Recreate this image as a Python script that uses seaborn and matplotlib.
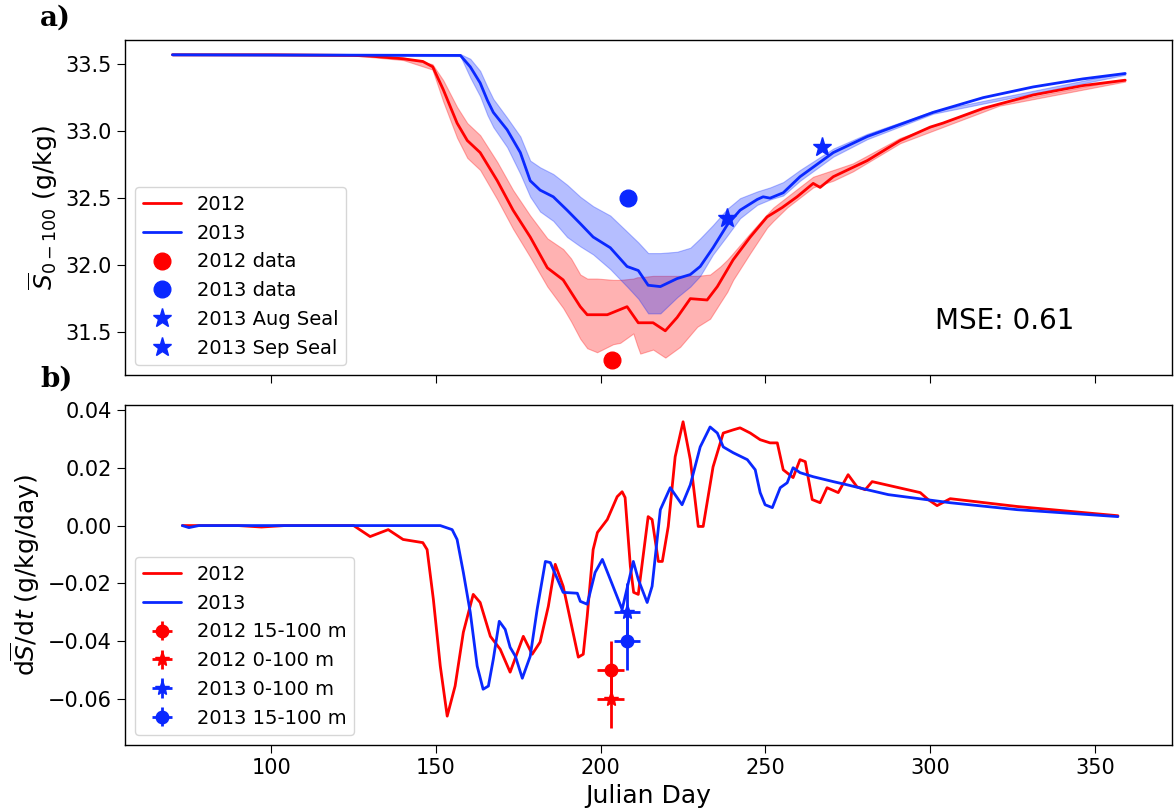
import numpy as np
import pandas as pd
import matplotlib
matplotlib.use("Agg")
import matplotlib.pyplot as plt
import seaborn as sns

# ---------------- Data ----------------
# Panel a: depth-mean salinity
red_days = [70, 100, 125, 130, 140, 146, 149, 152.2, 156.4, 159.5, 163.4, 168.6, 173.4, 178.6,
            183.8, 188.6, 193.8, 195.9, 202.0, 208.0, 211.4, 215.9, 219.6, 223.2, 227.2, 232.3,
            235.4, 240.2, 245.4, 250.5, 255.1, 259.6, 264.5, 266.6, 270.6, 276.6, 280.9, 290.9,
            300.0, 303.9, 316.1, 331.3, 346.4, 359.2]
red_S = [33.57, 33.57, 33.565, 33.56, 33.54, 33.52, 33.48, 33.31, 33.06, 32.93, 32.84, 32.63, 32.41, 32.21,
         31.98, 31.89, 31.69, 31.63, 31.63, 31.69, 31.57, 31.57, 31.51, 31.61, 31.75, 31.74,
         31.84, 32.04, 32.21, 32.36, 32.43, 32.51, 32.61, 32.58, 32.66, 32.73, 32.78, 32.93,
         33.03, 33.06, 33.17, 33.27, 33.34, 33.38]

red_band_days = [70, 124.9, 140.1, 148.9, 152.2, 156.4, 159.5, 163.4, 168.6, 173.4, 178.6, 183.8,
                 188.6, 191.0, 193.8, 195.9, 198.9, 203.8, 205.9, 209.9, 211.1, 212.0, 215.9,
                 219.6, 224.1, 229.3, 233.2, 236.3, 238.4, 240.2, 245.4, 250.5, 252.4, 256.6,
                 264.5, 270.6, 276.6, 290.9, 321.0, 359.2]
red_hi = [33.575, 33.575, 33.55, 33.50, 33.38, 33.18, 33.06, 32.97, 32.77, 32.56, 32.37, 32.20,
          32.12, 32.05, 31.93, 31.90, 31.90, 31.89, 31.89, 31.90, 31.91, 31.91, 31.92, 31.92,
          31.92, 31.92, 31.93, 31.99, 32.04, 32.09, 32.24, 32.38, 32.43, 32.51, 32.66, 32.71,
          32.76, 32.95, 33.21, 33.39]
red_lo = [33.565, 33.565, 33.53, 33.46, 33.22, 32.95, 32.80, 32.71, 32.49, 32.27, 32.06, 31.84,
          31.68, 31.58, 31.45, 31.38, 31.35, 31.41, 31.42, 31.49, 31.40, 31.34, 31.37, 31.31,
          31.39, 31.54, 31.60, 31.72, 31.80, 31.89, 32.09, 32.28, 32.33, 32.43, 32.58, 32.63,
          32.70, 32.91, 33.19, 33.37]

blue_days = [70, 157.4, 160.4, 163.4, 165.6, 167.4, 171.6, 175.6, 178.6, 181.6, 185.6, 189.8,
             193.8, 197.7, 202.9, 208.0, 211.4, 214.4, 218.1, 223.2, 227.2, 230.2, 234.1, 238.4,
             242.3, 247.5, 249.3, 251.4, 255.4, 260.5, 270.6, 280.9, 290.9, 300.9, 316.1, 331.3,
             346.4, 359.2]
blue_S = [33.57, 33.565, 33.48, 33.36, 33.23, 33.14, 33.01, 32.84, 32.63, 32.56, 32.51, 32.41,
          32.31, 32.21, 32.13, 31.99, 31.96, 31.85, 31.84, 31.90, 31.93, 31.99, 32.13, 32.30,
          32.41, 32.49, 32.51, 32.50, 32.54, 32.66, 32.84, 32.96, 33.05, 33.14, 33.25, 33.33,
          33.39, 33.43]

blue_band_days = [70, 157.4, 160.4, 163.4, 165.6, 167.4, 171.6, 175.6, 178.6, 181.6, 185.6,
                  189.8, 193.8, 197.7, 202.9, 208.0, 211.4, 214.4, 218.1, 223.2, 227.2, 230.2,
                  234.1, 238.4, 242.3, 247.5, 251.4, 255.4, 260.5, 270.6, 280.9, 300.9, 359.2]
blue_hi = [33.575, 33.575, 33.54, 33.45, 33.33, 33.24, 33.10, 32.96, 32.78, 32.73, 32.68, 32.60,
           32.51, 32.44, 32.37, 32.25, 32.17, 32.09, 32.09, 32.10, 32.13, 32.20, 32.30, 32.42,
           32.50, 32.55, 32.58, 32.62, 32.71, 32.87, 32.98, 33.15, 33.44]
blue_lo = [33.565, 33.56, 33.40, 33.26, 33.12, 33.03, 32.88, 32.68, 32.51, 32.40, 32.33, 32.21,
           32.14, 32.08, 31.97, 31.84, 31.75, 31.64, 31.64, 31.76, 31.84, 31.92, 32.08, 32.22,
           32.35, 32.45, 32.49, 32.52, 32.63, 32.81, 32.94, 33.13, 33.42]

data_2012_day, data_2012_S = [203.5], [31.29]
data_2013_day, data_2013_S = [208.3], [32.50]
seal_aug_day, seal_aug_S = [238.4], [32.35]
seal_sep_day, seal_sep_S = [267.2], [32.88]
mse_text = "MSE: 0.61"

# Panel b: rate of change
red_rate_days = [73, 90, 97, 104, 125, 130, 135.5, 140, 146, 147.3, 149.2, 151.3, 153.4, 155.8,
                 158.3, 161.3, 163.4, 166.5, 169.5, 172.5, 176.5, 179.2, 181.6, 184.1, 186.2,
                 188.6, 193.2, 194.7, 195.9, 197.7, 199.0, 202.0, 205.0, 206.5, 207.4, 209.0,
                 210.0, 211.4, 214.4, 215.6, 217.5, 218.7, 220.5, 222.6, 225.0, 227.2, 229.6,
                 231.1, 234.1, 237.2, 240.2, 242.3, 245.4, 248.4, 251.4, 253.6, 255.4, 258.4,
                 260.5, 262.1, 264.2, 266.6, 268.7, 272.1, 275.1, 277.8, 280.3, 282.4, 297.0,
                 299.4, 302.1, 306.1, 326.4, 357.0]
red_rate = [0.0, 0.0, -0.0005, 0.0, 0.0, -0.0038, -0.0014, -0.0048, -0.0059, -0.0083, -0.0255,
            -0.0486, -0.0659, -0.0555, -0.0369, -0.0238, -0.0266, -0.0383, -0.0428, -0.0507,
            -0.0383, -0.0445, -0.0403, -0.0279, -0.0134, -0.0210, -0.0455, -0.0445, -0.0314,
            -0.0083, -0.0024, 0.0021, 0.0100, 0.0117, 0.0097, -0.0141, -0.0231, -0.0238, 0.0031,
            0.0021, -0.0124, -0.0124, -0.0003, 0.0238, 0.0359, 0.0228, -0.0003, -0.0003, 0.0203,
            0.0320, 0.0331, 0.0338, 0.0320, 0.0297, 0.0286, 0.0286, 0.0193, 0.0166, 0.0228,
            0.0221, 0.0090, 0.0079, 0.0131, 0.0114, 0.0176, 0.0134, 0.0124, 0.0152, 0.0114,
            0.0090, 0.0069, 0.0093, 0.0066, 0.0034]

blue_rate_days = [73, 75, 78, 90, 151.3, 154.9, 156.4, 158.3, 160.4, 162.5, 164.3, 165.9, 167.4,
                  169.2, 171.0, 172.5, 174.1, 176.2, 178.6, 180.7, 183.2, 184.7, 188.6, 192.9,
                  193.8, 195.9, 198.3, 200.5, 202.9, 206.5, 209.9, 211.4, 214.1, 215.6, 218.1,
                  221.1, 224.7, 227.2, 230.2, 233.2, 235.4, 237.2, 240.2, 244.5, 246.9, 248.4,
                  249.9, 252.1, 254.5, 256.6, 258.4, 260.5, 264.5, 270.6, 274.8, 280.9, 287.3,
                  306.1, 326.4, 357.0]
blue_rate = [0.0, -0.0007, 0.0, 0.0, 0.0, -0.0014, -0.0048, -0.0162, -0.0300, -0.0486, -0.0566,
             -0.0555, -0.0462, -0.0331, -0.0359, -0.0421, -0.0452, -0.0528, -0.0452, -0.0290,
             -0.0124, -0.0128, -0.0231, -0.0234, -0.0262, -0.0272, -0.0162, -0.0117, -0.0186,
             -0.0290, -0.0124, -0.0186, -0.0266, -0.0210, 0.0055, 0.0131, 0.0072, 0.0141, 0.0272,
             0.0341, 0.0320, 0.0272, 0.0252, 0.0228, 0.0193, 0.0114, 0.0072, 0.0062, 0.0131,
             0.0148, 0.0200, 0.0183, 0.0169, 0.0152, 0.0141, 0.0124, 0.0107, 0.0079, 0.0055,
             0.0031]

obs_labels = ["2012 15-100 m", "2012 0-100 m", "2013 0-100 m", "2013 15-100 m"]
obs_day = [203, 203, 208, 208]
obs_rate = [-0.05, -0.06, -0.03, -0.04]
obs_day_err = [4, 4, 4, 4]
obs_rate_err = [0.01, 0.01, 0.01, 0.01]
obs_marker = ["o", "*", "*", "o"]
obs_year = ["2012", "2012", "2013", "2013"]

# ---------------- Styling ----------------
sns.set_style("ticks", {"axes.labelcolor": "black", "xtick.color": "black",
                        "ytick.color": "black", "text.color": "black",
                        "axes.edgecolor": "black"})
plt.rcParams['font.family'] = ['DejaVu Sans']
plt.rcParams['mathtext.fontset'] = 'dejavusans'
RED = "#ff0000"
BLUE = "#0a28ff"
year_color = {"2012": RED, "2013": BLUE}

fig = plt.figure(figsize=(11.75, 8.10), dpi=100)
ax1 = fig.add_axes([0.1064, 0.537, 0.891, 0.4136])
ax2 = fig.add_axes([0.1064, 0.0802, 0.891, 0.4198], sharex=ax1)

# ---- Panel a ----
ax1.fill_between(red_band_days, red_lo, red_hi, color=RED, alpha=0.3, lw=0.8)
ax1.fill_between(blue_band_days, blue_lo, blue_hi, color=BLUE, alpha=0.3, lw=0.8)
df_r = pd.DataFrame({"day": red_days, "S": red_S})
df_b = pd.DataFrame({"day": blue_days, "S": blue_S})
sns.lineplot(data=df_r, x="day", y="S", ax=ax1, color=RED, lw=2, label="2012")
sns.lineplot(data=df_b, x="day", y="S", ax=ax1, color=BLUE, lw=2, label="2013")
ax1.plot(data_2012_day, data_2012_S, "o", color=RED, ms=12, label="2012 data")
ax1.plot(data_2013_day, data_2013_S, "o", color=BLUE, ms=12, label="2013 data")
ax1.plot(seal_aug_day, seal_aug_S, "*", color=BLUE, ms=14, label="2013 Aug Seal")
ax1.plot(seal_sep_day, seal_sep_S, "*", color=BLUE, ms=14, label="2013 Sep Seal")
ax1.text(0.84, 0.16, mse_text, transform=ax1.transAxes, fontsize=20, ha="center", va="center")
ax1.set_ylabel(r"$\overline{S}_{0-100}$ (g/kg)", fontsize=18)
ax1.set_xlabel("")
ax1.set_ylim(31.18, 33.68)
ax1.set_yticks([31.5, 32.0, 32.5, 33.0, 33.5])
ax1.tick_params(labelsize=15, labelbottom=False, direction="out", length=6)
ax1.legend(loc="lower left", fontsize=14, frameon=True)

# ---- Panel b ----
df_rr = pd.DataFrame({"day": red_rate_days, "rate": red_rate})
df_br = pd.DataFrame({"day": blue_rate_days, "rate": blue_rate})
sns.lineplot(data=df_rr, x="day", y="rate", ax=ax2, color=RED, lw=2, label="2012")
sns.lineplot(data=df_br, x="day", y="rate", ax=ax2, color=BLUE, lw=2, label="2013")
for lab, d, r, de, re, m, yr in zip(obs_labels, obs_day, obs_rate, obs_day_err, obs_rate_err,
                                    obs_marker, obs_year):
    ax2.errorbar(d, r, xerr=de, yerr=re, fmt=m, color=year_color[yr],
                 ms=11 if m == "*" else 9, elinewidth=2, capsize=0, label=lab)
ax2.set_ylabel(r"d$\overline{S}$/d$t$ (g/kg/day)", fontsize=18)
ax2.set_xlabel("Julian Day", fontsize=18)
ax2.set_ylim(-0.0759, 0.0417)
ax2.set_xlim(55.6, 373.4)
ax2.set_xticks([100, 150, 200, 250, 300, 350])
ax2.set_yticks([-0.06, -0.04, -0.02, 0.0, 0.02, 0.04])
ax2.tick_params(labelsize=15, direction="out", length=6)
ax2.legend(loc="lower left", fontsize=14, frameon=True)

for ax in (ax1, ax2):
    for s in ax.spines.values():
        s.set_color("black")
        s.set_linewidth(1.0)

fig.text(0.034, 0.978, "a)", fontsize=20, fontweight="bold", family="DejaVu Serif",
         ha="left", va="center")
fig.text(0.034, 0.532, "b)", fontsize=20, fontweight="bold", family="DejaVu Serif",
         ha="left", va="center")

fig.savefig("out.png", dpi=100)
